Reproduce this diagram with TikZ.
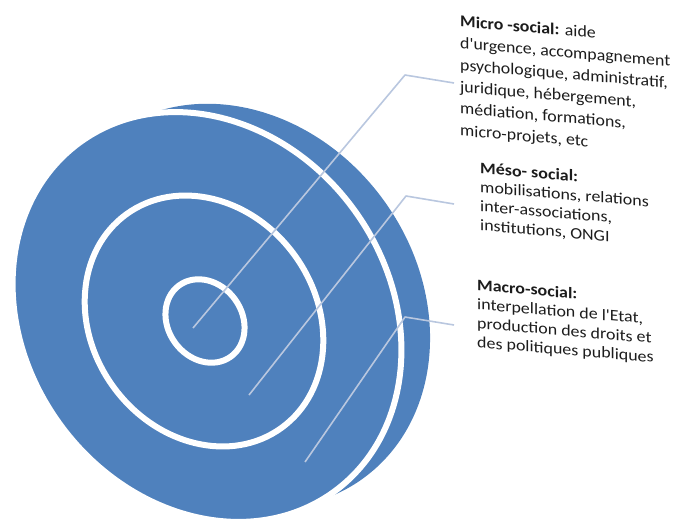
\documentclass[tikz,border=0pt]{standalone}
\usepackage{fontspec}
\usepackage{tikz}
\usetikzlibrary{positioning}
\newfontfamily\levelfont{Carlito}
\definecolor{diskblue}{HTML}{4F81BD}
\definecolor{leaderblue}{HTML}{B9C7DF}
\definecolor{textdark}{HTML}{1C1C1C}

\tikzset{
    ring/.style={draw=white, line width=6pt},
    leader/.style={draw=leaderblue, line width=1.6pt, line join=round},
    levelbox/.style={anchor=north west, align=left, inner sep=0pt, text=textdark,
        xscale=1.12, yslant=-0.095, font=\levelfont\fontsize{16}{19}\selectfont},
}

\begin{document}
\begin{tikzpicture}[x=1pt, y=-1pt]
    \useasboundingbox (0,0) rectangle (679,525);

    % back face
    \fill[diskblue, shift={(238,306)}, rotate=-54] (0,0) ellipse [x radius=213, y radius=180];
    % front face and the three levels
    \filldraw[ring, fill=diskblue, shift={(207,317)}, rotate=-54] (0,0) ellipse [x radius=216, y radius=182];
    \draw[ring, shift={(204,321)}, rotate=-54] (0,0) ellipse [x radius=132, y radius=112];
    \draw[ring, shift={(205,321)}, rotate=-54] (0,0) ellipse [x radius=44, y radius=37];

    \node[levelbox, xscale=0.965, font=\levelfont\fontsize{16.5}{21.8}\selectfont] (micro) at (460,15) {\textbf{Micro -social:} aide\\d'urgence, accompagnement\\psychologique, administratif,\\juridique, hébergement,\\médiation, formations,\\micro-projets, etc};
    \node[levelbox] (meso) at (480,162) {\textbf{Méso- social:}\\mobilisations, relations\\inter-associations,\\institutions, ONGI};
    \node[levelbox] (macro) at (477,279) {\textbf{Macro-social:}\\interpellation de l'Etat,\\production des droits et\\des politiques publiques};

    \coordinate (microtip) at (193,328);
    \coordinate (microbend) at (405,75);
    \coordinate (microend) at (454,83);
    \coordinate (mesotip) at (249,395);
    \coordinate (mesobend) at (406,196);
    \coordinate (mesoend) at (454,204);
    \coordinate (macrotip) at (305,462);
    \coordinate (macrobend) at (405,317);
    \coordinate (macroend) at (454,325);

    \draw[leader] (microtip) -- (microbend) -- (microend);
    \draw[leader] (mesotip) -- (mesobend) -- (mesoend);
    \draw[leader] (macrotip) -- (macrobend) -- (macroend);
\end{tikzpicture}
\end{document}
